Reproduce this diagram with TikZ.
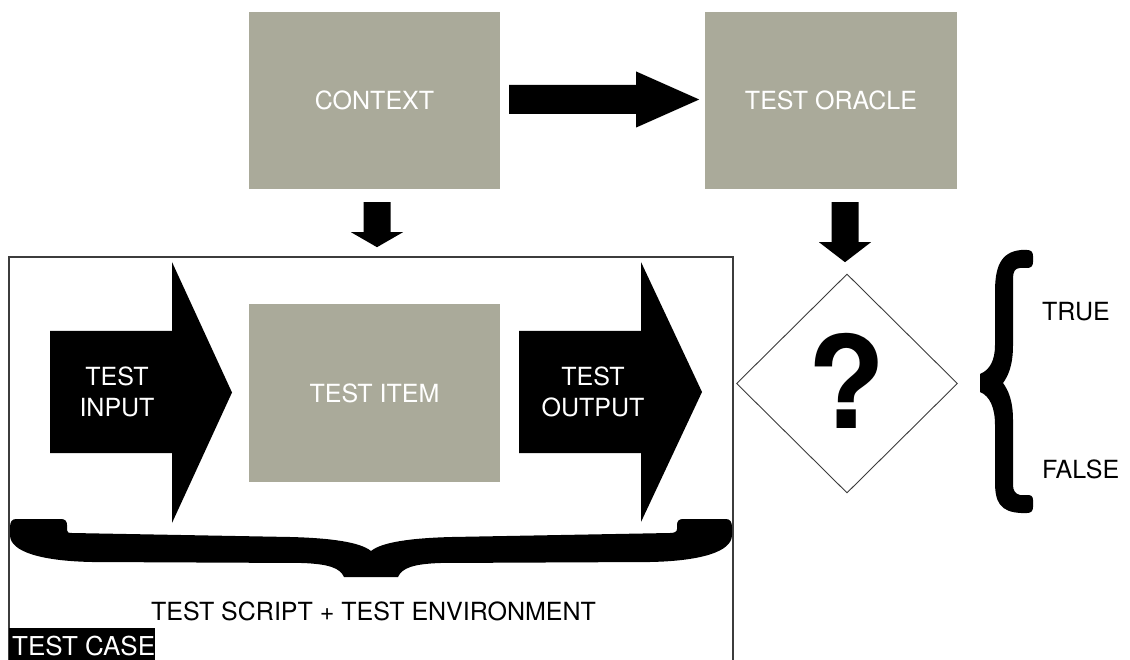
\documentclass[tikz,border=0pt]{standalone}
\usepackage{fontspec}
\setmainfont{TeX Gyre Heros}
\usetikzlibrary{shapes.geometric}

\definecolor{boxgray}{RGB}{170,170,154}
\definecolor{framegray}{RGB}{60,60,60}

\newcommand{\labelfont}{\fontsize{25pt}{31pt}\selectfont}

\begin{document}
\begin{tikzpicture}[x=1pt,y=-1pt,
  graybox/.style={rectangle, fill=boxgray, draw=none, inner sep=0pt,
    minimum width=251pt, minimum height=177pt, text=white,
    font=\labelfont},
  whitetext/.style={text=white, font=\labelfont, align=center, inner sep=0pt},
  blacktext/.style={text=black, font=\labelfont, inner sep=0pt},
  blockfill/.style={fill=black, draw=none},
  decision/.style={diamond, draw=framegray, line width=0.9pt, fill=white,
    minimum width=221pt, minimum height=219pt, inner sep=0pt,
    font=\fontsize{128pt}{130pt}\bfseries\selectfont}
]
\useasboundingbox (0,0) rectangle (1130,660);

% test case frame (open at the bottom)
\draw[framegray, line width=1.3pt] (9,662) -- (9,257) -- (733,257) -- (733,662);

% main boxes
\node[graybox] (ctx) at (374.5,100.5) {CONTEXT};
\node[graybox, minimum width=252pt] (oracle) at (831,100.5) {TEST ORACLE};
\node[graybox, minimum height=178pt] (item) at (374.5,393) {TEST ITEM};
\node[decision] (check) at (847,383.5) {\raisebox{5pt}{?}};

% connector anchors
\path (ctx.east) ++(9,-1) coordinate (ctxout);
\path (ctx.south) ++(2.5,13) coordinate (ctxdown);
\path (oracle.south) ++(14,13) coordinate (oracledown);

% context -> oracle
\begin{scope}[shift={(ctxout)}]
  \fill[blockfill] (0,-14.5) -- (127,-14.5) -- (127,-28) -- (190,0)
    -- (127,28) -- (127,14.5) -- (0,14.5) -- cycle;
\end{scope}

% context -> test case
\begin{scope}[shift={(ctxdown)}]
  \fill[blockfill] (-13.5,0) -- (13.5,0) -- (13.5,30) -- (26,30) -- (0,45)
    -- (-26,30) -- (-13.5,30) -- cycle;
\end{scope}

% oracle -> decision
\begin{scope}[shift={(oracledown)}]
  \fill[blockfill] (-13.5,0) -- (13.5,0) -- (13.5,40) -- (26,40) -- (0,60)
    -- (-26,40) -- (-13.5,40) -- cycle;
\end{scope}

% input and output block arrows
\fill[blockfill] (50,331) -- (172,331) -- (172,262) -- (232,392.5)
  -- (172,523) -- (172,453) -- (50,453) -- cycle;
\node[whitetext] (input) at (117,392) {TEST\\INPUT};

\fill[blockfill] (519,331) -- (641,331) -- (641,262) -- (702,392)
  -- (641,522) -- (641,453) -- (519,453) -- cycle;
\node[whitetext] (output) at (593,392) {TEST\\OUTPUT};

% horizontal brace under the test case
\fill[black] (16,519) -- (61,519) .. controls (65,519) and (67,521) .. (67,525)
  -- (67,530) .. controls (67,532.5) and (68.5,533) .. (72,533)
  -- (290,537) .. controls (330,538) and (360,542) .. (371,551)
  .. controls (382,542) and (412,538) .. (452,537)
  -- (670,533) .. controls (674,533) and (677,532) .. (677,529)
  -- (677,525) .. controls (677,521) and (679,519) .. (683,519)
  -- (726,519) .. controls (730,519) and (732,522) .. (732,527)
  -- (732,535) .. controls (732,552) and (700,561) .. (650,562)
  -- (440,563) .. controls (413,564) and (402,568) .. (398,577)
  -- (344,577) .. controls (340,568) and (329,564) .. (302,563)
  -- (92,562) .. controls (42,561) and (10,552) .. (10,535)
  -- (10,527) .. controls (10,522) and (12,519) .. (16,519) -- cycle;

\node[blacktext, anchor=base] (env) at (373.5,620) {TEST SCRIPT + TEST ENVIRONMENT};

% test case tag
\fill[black] (9,628) rectangle (155,662);
\node[text=white, font=\fontsize{26pt}{30pt}\selectfont, inner sep=0pt,
  anchor=base west] (tc) at (12,655) {TEST CASE};

% vertical brace with the outcomes
\fill[black] (1027,250) -- (1021,250) .. controls (1000,252) and (995,268) .. (995,292)
  -- (995,345) .. controls (995,360) and (990,370) .. (980,374)
  -- (980,392) .. controls (990,396) and (995,408) .. (995,425)
  -- (995,482) .. controls (995,502) and (1000,512) .. (1021,513)
  -- (1027,513) .. controls (1031,513) and (1033,511) .. (1033,507)
  -- (1033,500) .. controls (1033,496) and (1031,495) .. (1027,495)
  -- (1020,495) .. controls (1015,494) and (1013,490) .. (1013,485)
  -- (1013,420) .. controls (1013,400) and (1008,390) .. (1003,383)
  .. controls (1008,376) and (1013,366) .. (1013,345)
  -- (1013,278) .. controls (1013,272) and (1015,268) .. (1020,268)
  -- (1027,268) .. controls (1031,268) and (1033,266) .. (1033,262)
  -- (1033,256) .. controls (1033,252) and (1031,250) .. (1027,250) -- cycle;

\node[blacktext, anchor=base west] (true) at (1042,320) {TRUE};
\node[blacktext, anchor=base west] (false) at (1042,478) {FALSE};
\end{tikzpicture}
\end{document}
